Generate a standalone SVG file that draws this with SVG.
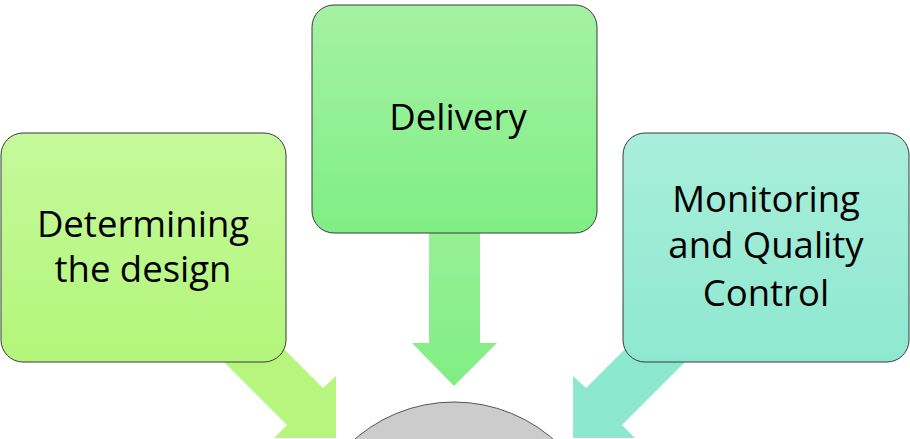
<svg xmlns="http://www.w3.org/2000/svg" width="910" height="439" viewBox="0 0 910 439">
<defs>
<linearGradient id="gL" x1="0" y1="0" x2="0" y2="1"><stop offset="0" stop-color="#c5f99b"/><stop offset="1" stop-color="#b3f67a"/></linearGradient>
<linearGradient id="gC" x1="0" y1="0" x2="0" y2="1"><stop offset="0" stop-color="#a4f2a4"/><stop offset="1" stop-color="#80ee84"/></linearGradient>
<linearGradient id="gR" x1="0" y1="0" x2="0" y2="1"><stop offset="0" stop-color="#a9eedb"/><stop offset="1" stop-color="#8ee8cf"/></linearGradient>
<linearGradient id="aC" x1="0" y1="0" x2="0" y2="1"><stop offset="0" stop-color="#96f095"/><stop offset="1" stop-color="#80ee84"/></linearGradient>
<style>
.box{stroke:#3a3a3a;stroke-width:1}
.t{font-family:"Open Sans","Liberation Sans",sans-serif;font-size:36.5px;fill:#000;text-anchor:middle}
</style>
</defs>
<g id="connectors">
<polygon fill="#b8f57f" points="233,298 323,388 336,376 336,438 274,438 287,425 197,335"/>
<polygon fill="url(#aC)" points="429,233 480,233 480,343 497,343 454,386 412,343 429,343"/>
<polygon fill="#8de8d0" points="676,298 586,388 573,376 573,438 635,438 622,425 712,335"/>
</g>
<g id="center">
<circle cx="454" cy="553" r="151" fill="#cccccc" stroke="#555" stroke-width="1"/>
</g>
<g id="determining">
<rect class="box" x="1" y="133" width="285" height="229" rx="22" fill="url(#gL)"/>
<text class="t" x="143" y="237">Determining</text>
<text class="t" x="143" y="282">the design</text>
</g>
<g id="delivery">
<rect class="box" x="312" y="5" width="285" height="228" rx="22" fill="url(#gC)"/>
<text class="t" x="458" y="130">Delivery</text>
</g>
<g id="monitoring">
<rect class="box" x="623" y="133" width="286" height="229" rx="22" fill="url(#gR)"/>
<text class="t" x="766" y="212">Monitoring</text>
<text class="t" x="766" y="258">and Quality</text>
<text class="t" x="766" y="306">Control</text>
</g>
</svg>
